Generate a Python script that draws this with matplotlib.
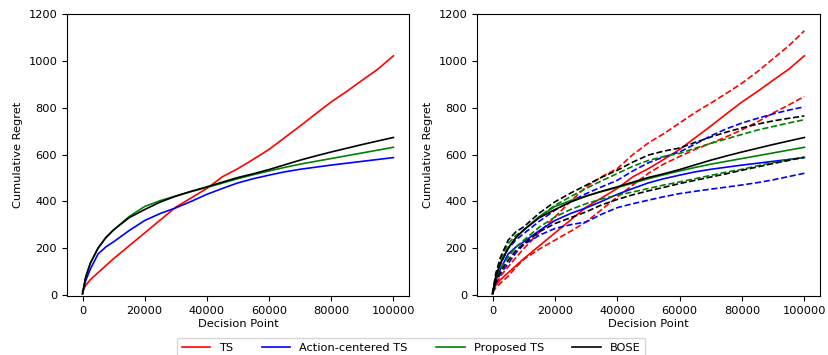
import matplotlib
matplotlib.use("Agg")
import matplotlib.pyplot as plt

plt.rcParams['font.family'] = ['DejaVu Sans']
plt.rcParams['font.size'] = 8.2

# Decision points at which cumulative regret was recorded
steps = [0, 1000, 2500, 5000, 7500, 10000, 15000, 20000, 25000, 30000, 35000,
         40000, 45000, 50000, 55000, 60000, 65000, 70000, 75000, 80000, 85000,
         90000, 95000, 100000]

# Mean cumulative regret
ts_mean = [15, 40, 65, 95, 125, 155, 210, 265, 320, 375, 415,
           455, 505, 540, 580, 622, 672, 722, 774, 825, 870,
           918, 965, 1022]
ac_mean = [5, 60, 110, 175, 205, 227, 275, 318, 348, 372, 400,
           430, 455, 479, 497, 512, 526, 537, 546, 555, 563,
           571, 579, 587]
prop_mean = [5, 75, 135, 200, 245, 278, 335, 378, 403, 423, 442,
             459, 478, 497, 514, 530, 545, 559, 571, 583, 595,
             607, 619, 631]
bose_mean = [5, 75, 135, 200, 245, 278, 330, 365, 397, 422, 443,
             462, 482, 502, 518, 536, 556, 576, 594, 611, 627,
             643, 658, 673]

# Upper and lower bands around each mean
ts_hi = [15, 45, 80, 120, 160, 198, 268, 333, 400, 462, 505,
         540, 600, 650, 690, 735, 780, 820, 862, 905, 955,
         1010, 1065, 1129]
ts_lo = [10, 30, 50, 80, 118, 152, 196, 234, 272, 312, 365,
         419, 470, 520, 560, 592, 622, 648, 676, 706, 740,
         778, 812, 848]
ac_hi = [5, 70, 130, 198, 235, 262, 315, 362, 400, 433, 462,
         490, 530, 565, 590, 611, 645, 680, 710, 735, 755,
         774, 790, 804]
ac_lo = [5, 50, 90, 134, 180, 215, 255, 284, 300, 312, 345,
         373, 390, 405, 420, 433, 443, 452, 461, 470, 480,
         492, 506, 520]
prop_hi = [5, 85, 150, 219, 255, 276, 335, 383, 420, 455, 488,
           519, 550, 575, 592, 605, 627, 648, 667, 686, 705,
           720, 735, 749]
prop_lo = [5, 60, 110, 162, 205, 234, 290, 333, 365, 390, 410,
           426, 440, 455, 470, 483, 497, 511, 525, 537, 552,
           566, 578, 588]
bose_hi = [5, 90, 160, 234, 270, 291, 350, 398, 435, 469, 503,
           533, 568, 598, 615, 628, 652, 675, 696, 714, 730,
           744, 755, 765]
bose_lo = [5, 55, 100, 148, 190, 219, 270, 305, 330, 355, 385,
           408, 428, 445, 460, 476, 490, 504, 518, 533, 547,
           562, 575, 589]

labels = ["TS", "Action-centered TS", "Proposed TS", "BOSE"]
colors = ["red", "blue", "green", "black"]
means = [ts_mean, ac_mean, prop_mean, bose_mean]
his = [ts_hi, ac_hi, prop_hi, bose_hi]
los = [ts_lo, ac_lo, prop_lo, bose_lo]

fig = plt.figure(figsize=(8.29, 3.55), dpi=100)
ax1 = fig.add_axes([0.0808, 0.166, 0.4125, 0.794])
ax2 = fig.add_axes([0.5754, 0.166, 0.4137, 0.794])

handles = []
for m, c, lab in zip(means, colors, labels):
    h, = ax1.plot(steps, m, color=c, lw=1.2, label=lab)
    handles.append(h)

for m, hi, lo, c in zip(means, his, los, colors):
    ax2.plot(steps, m, color=c, lw=1.2)
    ax2.plot(steps, hi, color=c, lw=1.2, ls="--")
    ax2.plot(steps, lo, color=c, lw=1.2, ls="--")

for ax in (ax1, ax2):
    ax.set_ylim(-5, 1200)
    ax.set_xlim(-5000, 105000)
    ax.set_xticks([0, 20000, 40000, 60000, 80000, 100000])
    ax.set_yticks([0, 200, 400, 600, 800, 1000, 1200])
    ax.set_xlabel("Decision Point", labelpad=2)
    ax.set_ylabel("Cumulative Regret")

fig.legend(handles=handles, labels=labels, loc="upper center", ncol=4,
           bbox_to_anchor=(0.496, 0.064), frameon=True, handlelength=2.5,
           columnspacing=2.5)

fig.savefig("out.png", dpi=100)
